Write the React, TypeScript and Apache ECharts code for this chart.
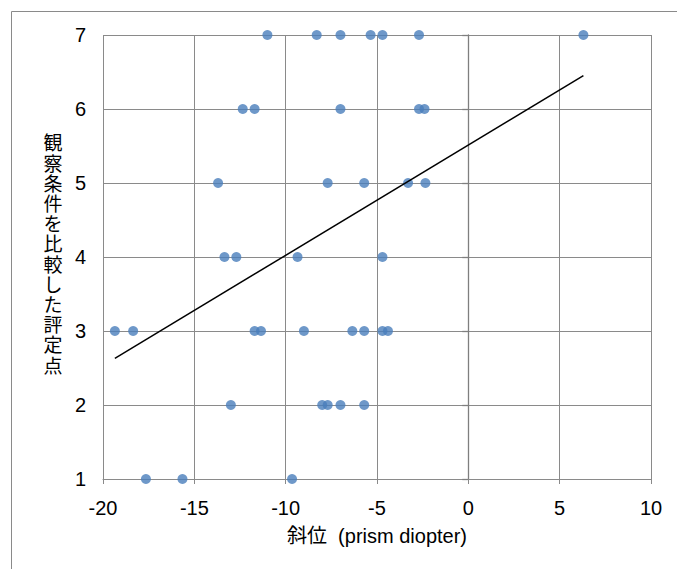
import React, { useEffect, useRef } from "react";
import * as echarts from "echarts";

// x values (斜位, prism diopter) of the points at each rating
const rating7 = [-11, -8.3, -7, -5.35, -4.7, -2.7, 6.3];
const rating6 = [-12.35, -11.7, -7, -2.7, -2.4];
const rating5 = [-13.7, -7.7, -5.7, -3.3, -2.35];
const rating4 = [-13.35, -12.7, -9.35, -4.7];
const rating3 = [-19.35, -18.35, -11.7, -11.35, -9.0, -6.35, -5.7, -4.7, -4.4];
const rating2 = [-13, -8, -7.7, -7, -5.7];
const rating1 = [-17.65, -15.65, -9.65];
const ratingValues = [1, 2, 3, 4, 5, 6, 7];
const ratingRows = [rating1, rating2, rating3, rating4, rating5, rating6, rating7];

// linear trendline endpoints
const trendLine = [
  [-19.35, 2.63],
  [6.3, 6.45],
];

const xMin = -20;
const xMax = 10;
const xStep = 5;
const yMin = 1;
const yMax = 7;
const yStep = 1;

const xTitle = "斜位  (prism diopter)";
const yTitleChars = ["観", "察", "条", "件", "を", "比", "較", "し", "た", "評", "定", "点"];

export default function App() {
  const ref = useRef<HTMLDivElement>(null);
  useEffect(() => {
    const chart = echarts.init(ref.current!, null, { renderer: "svg" });
    const points: number[][] = [];
    ratingRows.forEach((row, i) => {
      row.forEach((x) => points.push([x, ratingValues[i]]));
    });
    const latin = "'Liberation Sans', Arial, 'Noto Sans CJK JP', sans-serif";
    const grid = "#8a8a8a";
    const charStep = 20.2;
    const titleTop = 253 - (yTitleChars.length * charStep) / 2 + charStep / 2;
    const titleTexts = yTitleChars.map((ch, i) => ({
      type: "text",
      x: 53,
      y: titleTop + i * charStep,
      style: {
        text: ch,
        fontSize: 19,
        fontFamily: "'Noto Sans CJK JP', sans-serif",
        fill: "#000",
        align: "center",
        verticalAlign: "middle",
        textAlign: "center",
        textVerticalAlign: "middle",
      },
    }));
    chart.setOption({
      animation: false,
      backgroundColor: "#ffffff",
      grid: { left: 103, right: 26, top: 35, bottom: 90, containLabel: false },
      xAxis: {
        type: "value",
        min: xMin,
        max: xMax,
        interval: xStep,
        name: xTitle,
        nameLocation: "middle",
        nameGap: 47,
        nameTextStyle: { fontSize: 20, color: "#000", fontFamily: latin },
        axisLine: { show: true, onZero: false, lineStyle: { color: grid, width: 1 } },
        axisTick: { show: true, length: 5, lineStyle: { color: grid, width: 1 } },
        axisLabel: { fontSize: 20, margin: 19, color: "#000", fontFamily: latin },
        splitLine: { show: true, lineStyle: { color: grid, width: 1 } },
      },
      yAxis: [
        {
          type: "value",
          min: yMin,
          max: yMax,
          interval: yStep,
          position: "left",
          axisLine: { show: false, onZero: false },
          axisTick: { show: false },
          axisLabel: { fontSize: 20, margin: 17, color: "#000", fontFamily: latin },
          splitLine: { show: true, lineStyle: { color: grid, width: 1 } },
        },
        {
          type: "value",
          min: yMin,
          max: yMax,
          interval: yStep,
          position: "left",
          axisLine: { show: true, onZero: true, lineStyle: { color: "#7f7f7f", width: 1.3 } },
          axisTick: { show: true, length: 6, lineStyle: { color: "#7f7f7f", width: 1.3 } },
          axisLabel: { show: false },
          splitLine: { show: false },
        },
      ],
      series: [
        {
          type: "scatter",
          data: points,
          symbol: "circle",
          symbolSize: 10,
          itemStyle: { color: "#4a7ebb" },
          z: 3,
        },
        {
          type: "line",
          data: trendLine,
          symbol: "none",
          lineStyle: { color: "#000", width: 1.5 },
          z: 4,
        },
      ],
      graphic: [
        {
          type: "rect",
          shape: { x: 11.5, y: 11.5, width: 720, height: 620 },
          style: { fill: "none", stroke: "#8a8a8a", lineWidth: 1 },
          silent: true,
        },
        ...titleTexts,
      ],
    });
    return () => chart.dispose();
  }, []);
  return (
    <div
      ref={ref}
      style={{ position: "fixed", left: 0, top: 0, width: 677, height: 569, background: "#fff" }}
    />
  );
}
